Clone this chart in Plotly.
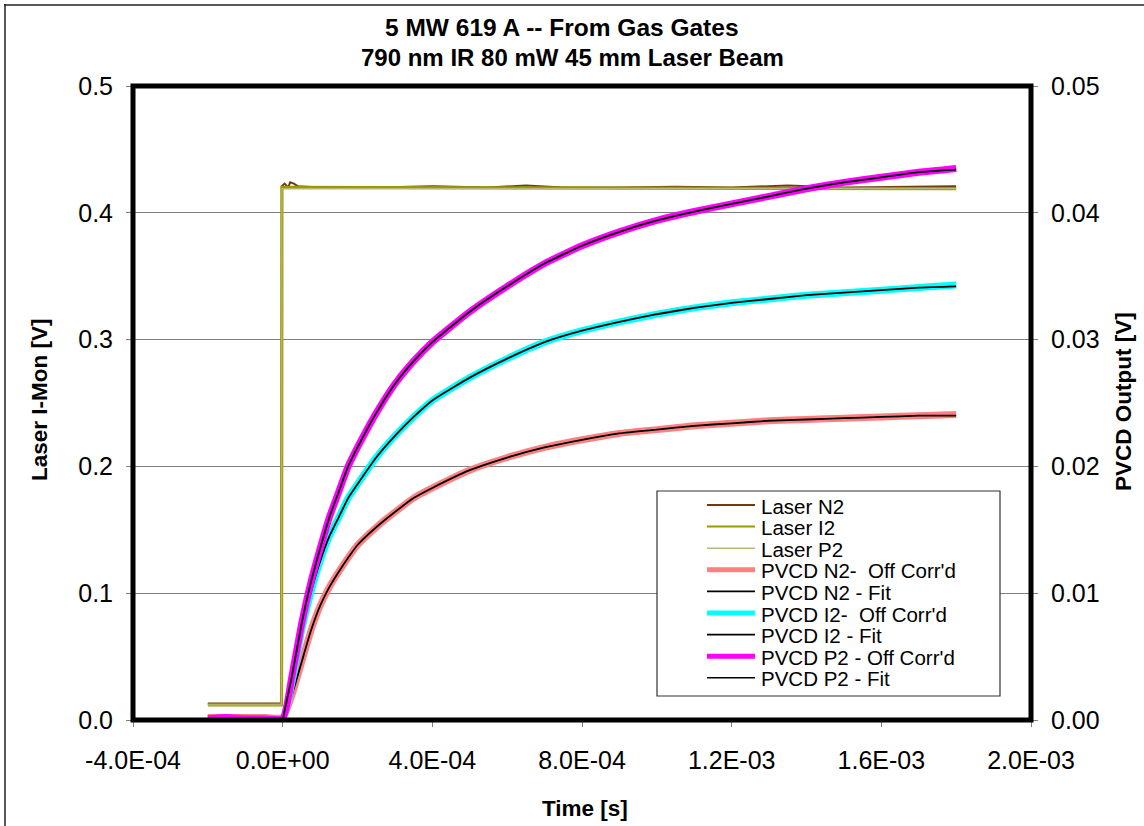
import plotly.graph_objects as go

# ---------------- data ----------------
X_TICKS = [-4.0e-4, 0.0, 4.0e-4, 8.0e-4, 1.2e-3, 1.6e-3, 2.0e-3]
X_TICK_TEXT = ["-4.0E-04", "0.0E+00", "4.0E-04", "8.0E-04", "1.2E-03", "1.6E-03", "2.0E-03"]
Y1_TICKS = [0.0, 0.1, 0.2, 0.3, 0.4, 0.5]
Y1_TICK_TEXT = ["0.0", "0.1", "0.2", "0.3", "0.4", "0.5"]
Y2_TICKS = [0.0, 0.01, 0.02, 0.03, 0.04, 0.05]
Y2_TICK_TEXT = ["0.00", "0.01", "0.02", "0.03", "0.04", "0.05"]

# Laser current monitors (left axis, V)
T_LASER_N2 = [-2.0e-4, -1.2e-4, -3.0e-6, -2.0e-6, 5e-6, 1.5e-5, 2.0e-5, 3.0e-5, 4.0e-5,
              1.0e-4, 2.5e-4, 4.0e-4, 5.5e-4, 6.5e-4, 7.5e-4, 9.0e-4, 1.05e-3,
              1.2e-3, 1.35e-3, 1.5e-3, 1.65e-3, 1.8e-3]
LASER_N2 = [0.013, 0.013, 0.013, 0.421, 0.423, 0.420, 0.424, 0.423, 0.421,
            0.420, 0.420, 0.421, 0.420, 0.4215, 0.420, 0.420, 0.4205,
            0.420, 0.4215, 0.420, 0.4205, 0.421]
T_LASER_I2 = [-2.0e-4, -3.0e-6, -2.0e-6, 1.8e-3]
LASER_I2 = [0.012, 0.012, 0.420, 0.419]
T_LASER_P2 = [-2.0e-4, -3.0e-6, -2.0e-6, 1.8e-3]
LASER_P2 = [0.012, 0.012, 0.419, 0.419]

# PVCD outputs (right axis, V)
T_PVCD = [-2.0e-4, -1.5e-4, -1.0e-4, -5.0e-5, 0.0, 2.5e-5, 5.0e-5, 7.5e-5, 1.0e-4, 1.25e-4,
          1.5e-4, 1.75e-4, 2.0e-4, 2.5e-4, 3.0e-4, 3.5e-4, 4.0e-4, 5.0e-4, 6.0e-4,
          7.0e-4, 8.0e-4, 9.0e-4, 1.0e-3, 1.1e-3, 1.2e-3, 1.3e-3, 1.4e-3, 1.5e-3,
          1.6e-3, 1.7e-3, 1.8e-3]
PVCD_N2 = [0.0002, 0.0002, 0.0002, 0.0002, 0.0002, 0.0020, 0.0045, 0.0070, 0.0090, 0.0105,
           0.0117, 0.0128, 0.0138, 0.0152, 0.0164, 0.0175, 0.0183, 0.0197, 0.0207,
           0.0215, 0.0221, 0.0226, 0.0229, 0.0232, 0.0234, 0.0236, 0.0237, 0.0238,
           0.0239, 0.0240, 0.0241]
PVCD_I2 = [0.0001, 0.0001, 0.0001, 0.0001, 0.0001, 0.0030, 0.0070, 0.0100, 0.0125, 0.0145,
           0.0160, 0.0175, 0.0186, 0.0207, 0.0224, 0.0239, 0.0252, 0.0270, 0.0285,
           0.0298, 0.0307, 0.0314, 0.0320, 0.0325, 0.0329, 0.0332, 0.0335, 0.0337,
           0.0339, 0.0341, 0.0343]
PVCD_P2 = [0.0001, 0.0002, 0.0001, 0.0001, 0.0001, 0.0035, 0.0075, 0.0108, 0.0135, 0.0160,
           0.0180, 0.0200, 0.0215, 0.0242, 0.0265, 0.0283, 0.0298, 0.0322, 0.0342,
           0.0360, 0.0374, 0.0385, 0.0394, 0.0401, 0.0407, 0.0413, 0.0419, 0.0424,
           0.0428, 0.0432, 0.0435]

T_FIT = [0.0, 2.5e-5, 5.0e-5, 7.5e-5, 1.0e-4, 1.25e-4, 1.5e-4, 1.75e-4, 2.0e-4, 2.5e-4,
         3.0e-4, 3.5e-4, 4.0e-4, 5.0e-4, 6.0e-4, 7.0e-4, 8.0e-4, 9.0e-4, 1.0e-3,
         1.1e-3, 1.2e-3, 1.3e-3, 1.4e-3, 1.5e-3, 1.6e-3, 1.7e-3, 1.8e-3]
FIT_N2 = [0.0, 0.0020, 0.0045, 0.0070, 0.0090, 0.0105, 0.0117, 0.0128, 0.0138, 0.0152,
          0.0164, 0.0175, 0.0183, 0.0197, 0.0207, 0.0215, 0.0221, 0.0226, 0.0229,
          0.0232, 0.0234, 0.0236, 0.0237, 0.0238, 0.0239, 0.0240, 0.0240]
FIT_I2 = [0.0, 0.0030, 0.0070, 0.0100, 0.0125, 0.0145, 0.0160, 0.0175, 0.0186, 0.0207,
          0.0224, 0.0239, 0.0252, 0.0270, 0.0285, 0.0298, 0.0307, 0.0314, 0.0320,
          0.0325, 0.0329, 0.0332, 0.0335, 0.0337, 0.0339, 0.0341, 0.0342]
FIT_P2 = [0.0, 0.0035, 0.0075, 0.0108, 0.0135, 0.0160, 0.0180, 0.0200, 0.0215, 0.0242,
          0.0265, 0.0283, 0.0298, 0.0322, 0.0342, 0.0360, 0.0374, 0.0385, 0.0394,
          0.0401, 0.0407, 0.0413, 0.0419, 0.0424, 0.0428, 0.0432, 0.0434]

SERIES_NAMES = ["Laser N2", "Laser I2", "Laser P2",
                "PVCD N2-  Off Corr'd", "PVCD N2 - Fit",
                "PVCD I2-  Off Corr'd", "PVCD I2 - Fit",
                "PVCD P2 - Off Corr'd", "PVCD P2 - Fit"]

# ---------------- styling ----------------
FONT = "Arial, Liberation Sans, sans-serif"
C_N2L, C_I2L, C_P2L = "#6E3B10", "#9A9A00", "#B8B878"
C_N2, C_I2, C_P2 = "#FF8080", "#00FFFF", "#FF00FF"
W, H = 1144, 826
PL, PR, PT, PB = 133, 1031, 86, 720


def px(x):
    return (x - PL) / (PR - PL)


def py(y):
    return (PB - y) / (PB - PT)


fig = go.Figure()

# (t, v, colour, width, axis, legend swatch width, line shape)
styles = [
    (T_LASER_N2, LASER_N2, C_N2L, 2, "y", 2, "linear"),
    (T_LASER_I2, LASER_I2, C_I2L, 3.2, "y", 2, "linear"),
    (T_LASER_P2, LASER_P2, C_P2L, 1.2, "y", 1.5, "linear"),
    (T_PVCD, PVCD_N2, C_N2, 7, "y2", 5, "spline"),
    (T_FIT, FIT_N2, "#000000", 1.8, "y2", 1.6, "spline"),
    (T_PVCD, PVCD_I2, C_I2, 7, "y2", 5, "spline"),
    (T_FIT, FIT_I2, "#000000", 1.8, "y2", 1.6, "spline"),
    (T_PVCD, PVCD_P2, C_P2, 7, "y2", 5, "spline"),
    (T_FIT, FIT_P2, "#000000", 1.8, "y2", 1.6, "spline"),
]
for name, (t, v, c, w, ax, _, shp) in zip(SERIES_NAMES, styles):
    line = dict(color=c, width=w, shape=shp)
    if shp == "spline":
        line["smoothing"] = 0.5
    fig.add_trace(go.Scatter(x=t, y=v, mode="lines", name=name, yaxis=ax,
                             line=line, showlegend=False))

TICKFONT = dict(size=25, family=FONT, color="black")
fig.update_layout(
    width=W, height=H,
    margin=dict(l=PL, r=W - PR, t=PT, b=H - PB, autoexpand=False),
    paper_bgcolor="white", plot_bgcolor="white",
    font=dict(family=FONT, color="black"),
    showlegend=False,
    xaxis=dict(range=[-4.0e-4, 2.0e-3], tickvals=X_TICKS, ticktext=X_TICK_TEXT,
               showgrid=False, zeroline=False, ticks="outside", ticklen=6,
               tickcolor="#808080", tickfont=TICKFONT, ticklabelstandoff=12),
    yaxis=dict(range=[0, 0.5], tickvals=Y1_TICKS, ticktext=Y1_TICK_TEXT,
               showgrid=True, gridcolor="#808080", gridwidth=1, zeroline=False,
               ticks="outside", ticklen=6, tickcolor="#808080",
               tickfont=TICKFONT, ticklabelstandoff=8),
    yaxis2=dict(range=[0, 0.05], tickvals=Y2_TICKS, ticktext=Y2_TICK_TEXT,
                overlaying="y", side="right", showgrid=False, zeroline=False,
                ticks="outside", ticklen=6, tickcolor="#808080",
                tickfont=TICKFONT, ticklabelstandoff=8),
)

shapes = []
# thick plot-area border
shapes.append(dict(type="rect", xref="paper", yref="paper", x0=0, x1=1, y0=0, y1=1,
                   line=dict(color="black", width=5), layer="above"))
# outer chart border (left and top visible)
shapes.append(dict(type="line", xref="paper", yref="paper", x0=px(5), x1=px(5),
                   y0=py(4), y1=py(H + 2), line=dict(color="#222222", width=1.5)))
shapes.append(dict(type="line", xref="paper", yref="paper", x0=px(4), x1=px(W + 2),
                   y0=py(5), y1=py(5), line=dict(color="#222222", width=1.5)))
# legend box
LG_L, LG_T, LG_R, LG_B = 657, 491, 1000, 696
shapes.append(dict(type="rect", xref="paper", yref="paper", x0=px(LG_L), x1=px(LG_R),
                   y0=py(LG_B), y1=py(LG_T), fillcolor="white",
                   line=dict(color="#333333", width=1.2), layer="above"))

annotations = []
row0, dy = 505, 21.6
for i, (name, st) in enumerate(zip(SERIES_NAMES, styles)):
    yy = row0 + i * dy
    shapes.append(dict(type="line", xref="paper", yref="paper", x0=px(707), x1=px(755),
                       y0=py(yy), y1=py(yy), layer="above",
                       line=dict(color=st[2], width=st[5])))
    annotations.append(dict(text=name, xref="paper", yref="paper", x=px(759), y=py(yy + 1),
                            xanchor="left", yanchor="middle", showarrow=False,
                            font=dict(size=20.5, family=FONT, color="black")))

# titles
annotations.append(dict(text="<b>5 MW 619 A -- From Gas Gates</b>", xref="paper", yref="paper",
                        x=px(562), y=py(28), xanchor="center", yanchor="middle",
                        showarrow=False, font=dict(size=24.5, family=FONT)))
annotations.append(dict(text="<b>790 nm IR 80 mW 45 mm Laser Beam</b>", xref="paper", yref="paper",
                        x=px(572), y=py(57), xanchor="center", yanchor="middle",
                        showarrow=False, font=dict(size=24, family=FONT)))
annotations.append(dict(text="<b>Laser I-Mon [V]</b>", xref="paper", yref="paper",
                        x=px(39), y=py(400), textangle=-90, xanchor="center", yanchor="middle",
                        showarrow=False, font=dict(size=22.5, family=FONT)))
annotations.append(dict(text="<b>PVCD Output [V]</b>", xref="paper", yref="paper",
                        x=px(1123), y=py(402), textangle=-90, xanchor="center", yanchor="middle",
                        showarrow=False, font=dict(size=22.5, family=FONT)))
annotations.append(dict(text="<b>Time [s]</b>", xref="paper", yref="paper",
                        x=px(585), y=py(808), xanchor="center", yanchor="middle",
                        showarrow=False, font=dict(size=22.5, family=FONT)))

fig.update_layout(shapes=shapes, annotations=annotations)
fig.write_html("out.html")
